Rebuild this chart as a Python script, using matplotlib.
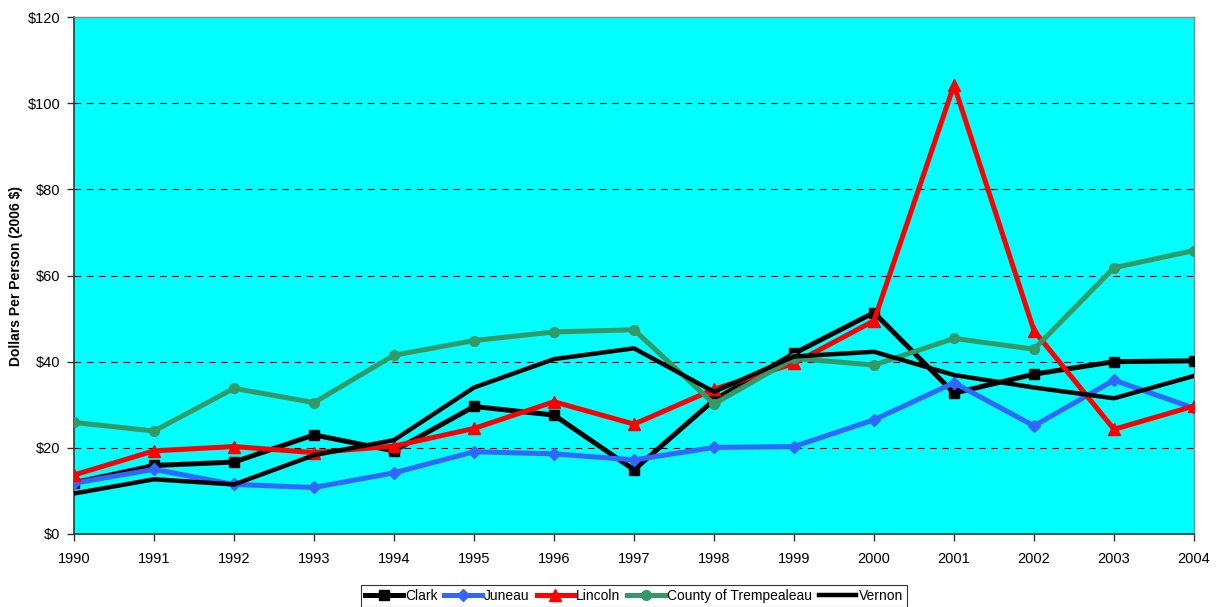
import matplotlib
matplotlib.use("Agg")
import matplotlib.pyplot as plt
from matplotlib.ticker import FuncFormatter, MultipleLocator

years = list(range(1990, 2005))

clark = [11.9, 15.9, 16.7, 23.0, 19.3, 29.6, 27.6, 14.9, 31.1, 41.9, 51.4, 32.7, 37.1, 40.0, 40.2]
juneau = [11.8, 15.0, 11.5, 10.8, 14.2, 19.1, 18.6, 17.2, 20.1, 20.3, 26.5, 35.1, 25.1, 35.7, 29.2]
lincoln = [13.7, 19.3, 20.3, 18.9, 20.4, 24.5, 30.7, 25.5, 33.6, 39.6, 49.5, 104.2, 47.2, 24.3, 29.7]
trempealeau = [25.9, 23.9, 33.8, 30.5, 41.5, 44.9, 46.9, 47.4, 30.2, 40.8, 39.2, 45.4, 42.9, 61.8, 65.8]
vernon = [9.4, 12.7, 11.5, 18.3, 21.8, 34.0, 40.6, 43.1, 33.0, 41.2, 42.3, 36.9, 34.0, 31.5, 36.7]

labels = ["Clark", "Juneau", "Lincoln", "County of Trempealeau", "Vernon"]

plt.rcParams["font.family"] = ["Liberation Sans", "DejaVu Sans"]

fig = plt.figure(figsize=(12.16, 6.07), dpi=100)
ax = fig.add_axes([74 / 1216, 73 / 607, 1120 / 1216, 517 / 607])
ax.set_facecolor("#00FFFF")

ax.plot(years, clark, color="black", lw=3.6, marker="s", ms=7, label=labels[0], zorder=3)
ax.plot(years, juneau, color="#3366FF", lw=3.6, marker="D", ms=6, label=labels[1], zorder=3)
ax.plot(years, lincoln, color="#FF0000", lw=3.6, marker="^", ms=8, label=labels[2], zorder=3)
ax.plot(years, trempealeau, color="#339966", lw=3.6, marker="o", ms=7, label=labels[3], zorder=3)
ax.plot(years, vernon, color="black", lw=3.2, label=labels[4], zorder=3)

ax.set_xlim(1990, 2004)
ax.set_ylim(0, 120)
ax.set_xticks(years)
ax.yaxis.set_major_locator(MultipleLocator(20))
ax.yaxis.set_major_formatter(FuncFormatter(lambda v, p: f"${v:.0f}"))
ax.tick_params(axis="both", labelsize=10.5, direction="out", length=5, width=1, color="#333333")
ax.tick_params(axis="x", pad=8)
ax.tick_params(axis="y", pad=5)

for y in range(20, 120, 20):
    ax.axhline(y, color="black", lw=0.8, ls=(0, (6, 5)), zorder=1)

for side in ("left", "bottom"):
    ax.spines[side].set_color("#333333")
    ax.spines[side].set_linewidth(1.2)
for side in ("top", "right"):
    ax.spines[side].set_color("#888888")
    ax.spines[side].set_linewidth(1.0)

ax.set_ylabel("Dollars Per Person (2006 $)", fontsize=10, fontweight="bold")
ax.yaxis.set_label_coords(-0.0455, 0.5)

leg = ax.legend(loc="upper center", bbox_to_anchor=(0.5, -0.098), ncol=5, frameon=True,
                fancybox=False, edgecolor="black", fontsize=10, handlelength=2.7,
                handletextpad=0.15, columnspacing=0.5, borderpad=0.3, borderaxespad=0)
leg.get_frame().set_linewidth(0.8)

fig.savefig("out.png", dpi=100, facecolor="white")
